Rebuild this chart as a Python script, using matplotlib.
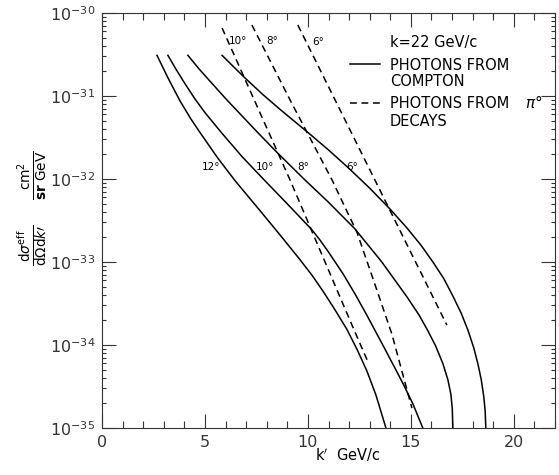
import matplotlib
matplotlib.use("Agg")
import matplotlib.pyplot as plt
from matplotlib.lines import Line2D
import numpy as np

plt.rcParams['font.family'] = ['DejaVu Sans']
plt.rcParams['mathtext.fontset'] = 'dejavusans'

# ---- data (k' in GeV/c, log10 of cross-section) ----
compton_12_k = [2.67, 3.2, 3.79, 4.3, 4.76, 5.6, 6.46, 7.67, 8.6, 9.61, 10.2, 10.73, 11.3, 11.89, 12.4,
                12.86, 13.3, 13.79]
compton_12_L = [-30.51, -30.78, -31.06, -31.27, -31.44, -31.74, -32.02, -32.38, -32.66, -32.97, -33.16,
                -33.35, -33.57, -33.81, -34.06, -34.31, -34.60, -35.0]

compton_10_k = [3.2, 3.6, 4.0, 4.5, 5.0, 5.83, 6.8, 7.91, 9.0, 10.19, 10.6, 11.0, 11.70, 12.3, 12.86,
                13.4, 13.83, 14.61, 15.1, 15.58]
compton_10_L = [-30.51, -30.68, -30.84, -31.03, -31.20, -31.45, -31.73, -32.02, -32.30, -32.61, -32.74,
                -32.88, -33.14, -33.39, -33.64, -33.89, -34.09, -34.46, -34.71, -35.0]

compton_8_k = [4.17, 4.7, 5.24, 6.0, 6.8, 7.6, 8.5, 9.85, 11.0, 12.28, 13.59, 14.81, 15.4, 15.83, 16.2,
               16.55, 16.8, 16.94, 17.01, 17.04]
compton_8_L = [-30.51, -30.67, -30.82, -31.03, -31.24, -31.45, -31.68, -32.01, -32.28, -32.60, -33.00,
               -33.42, -33.64, -33.83, -34.01, -34.22, -34.42, -34.59, -34.76, -35.0]

compton_6_k = [5.83, 6.89, 7.8, 8.64, 10.10, 11.0, 11.94, 13.0, 13.98, 14.81, 15.5, 16.07, 16.6, 17.04,
               17.45, 17.77, 18.05, 18.25, 18.42, 18.54, 18.61, 18.64]
compton_6_L = [-30.51, -30.77, -30.98, -31.16, -31.46, -31.65, -31.86, -32.11, -32.36, -32.59, -32.80,
               -33.00, -33.20, -33.41, -33.62, -33.82, -34.03, -34.22, -34.42, -34.62, -34.80, -35.0]

pion_10_k = [5.83, 9.13, 12.14, 12.91]
pion_10_L = [-30.18, -32.01, -33.76, -34.20]

pion_8_k = [7.28, 9.2, 11.17, 11.8, 12.38, 13.2, 14.08, 15.05]
pion_8_L = [-30.145, -31.08, -32.01, -32.34, -32.64, -33.23, -33.87, -34.76]

pion_6_k = [9.51, 13.25, 16.75]
pion_6_L = [-30.145, -32.01, -33.76]

x_ticks = [0, 5, 10, 15, 20]
y_exps = [-35, -34, -33, -32, -31, -30]

W, H = 559, 475
fig = plt.figure(figsize=(W / 100, H / 100), dpi=100)
ax = fig.add_axes([102 / W, 1 - 428 / H, (555 - 102) / W, (428 - 13) / H])

lw = 1.1
DASH = (4.5, 3.0)
for k, L in [(compton_12_k, compton_12_L), (compton_10_k, compton_10_L),
             (compton_8_k, compton_8_L), (compton_6_k, compton_6_L)]:
    ax.plot(k, 10.0 ** np.array(L), color='black', lw=lw, solid_joinstyle='round')
for k, L in [(pion_10_k, pion_10_L), (pion_8_k, pion_8_L), (pion_6_k, pion_6_L)]:
    ax.plot(k, 10.0 ** np.array(L), color='black', lw=lw, dashes=DASH)

ax.set_yscale('log')
ax.set_xlim(0, 22)
ax.set_ylim(1e-35, 1e-30)

ax.set_xticks(x_ticks)
ax.set_xticklabels([str(t) for t in x_ticks], fontsize=11.5, color='#333333')
ax.set_xticks(np.arange(0, 23, 1), minor=True)
ax.set_yticks([10.0 ** e for e in y_exps])
ax.set_yticklabels([r'$\mathregular{10^{%d}}$' % e for e in y_exps], fontsize=11.5, color='#333333')
ax.tick_params(which='both', direction='in', top=True, right=True, width=0.8, color='#333333')
ax.tick_params(which='major', length=10, pad=5)
ax.tick_params(which='minor', length=5)
ax.tick_params(axis='y', which='minor', length=3)
for s in ax.spines.values():
    s.set_linewidth(0.8)
    s.set_color('#333333')

def px(x, y):
    return (x / W, 1 - y / H)

# curve labels
for txt, x, y in [('12°', 211, 167), ('10°', 265, 167), ('8°', 303, 167), ('6°', 352, 167),
                  ('10°', 238, 41), ('8°', 272, 41), ('6°', 318, 42)]:
    fig.text(*px(x, y), txt, fontsize=7.5, ha='center', va='center')

# legend
fig.text(*px(390, 43), 'k=22 GeV/c', fontsize=10.5, ha='left', va='center')
fig.add_artist(Line2D([350 / W, 380 / W], [1 - 64 / H, 1 - 64 / H], color='black', lw=lw))
fig.text(*px(390, 65), 'PHOTONS FROM', fontsize=10.5, ha='left', va='center')
fig.text(*px(390, 82), 'COMPTON', fontsize=10.5, ha='left', va='center')
fig.add_artist(Line2D([350 / W, 380 / W], [1 - 103 / H, 1 - 103 / H], color='black', lw=lw,
                      dashes=DASH))
fig.text(*px(390, 104), 'PHOTONS FROM', fontsize=10.5, ha='left', va='center')
fig.text(*px(525, 103), r'$\pi$°', fontsize=11, ha='left', va='center')
fig.text(*px(390, 121), 'DECAYS', fontsize=10.5, ha='left', va='center')

# axis labels
fig.text(*px(348, 455), "k$'$  GeV/c", fontsize=10.5, ha='center', va='center')
fig.text(*px(33, 245), r'$\frac{\mathregular{d}\sigma^{\mathregular{eff}}}{\mathregular{d}\Omega \mathregular{d}k\prime}$',
         fontsize=14, rotation=90, ha='center', va='center')
fig.text(*px(33, 175), r'$\frac{\mathregular{cm^2}}{\mathbf{sr}\ \mathregular{GeV}}$',
         fontsize=14, rotation=90, ha='center', va='center')

fig.savefig('out.png', dpi=100)
